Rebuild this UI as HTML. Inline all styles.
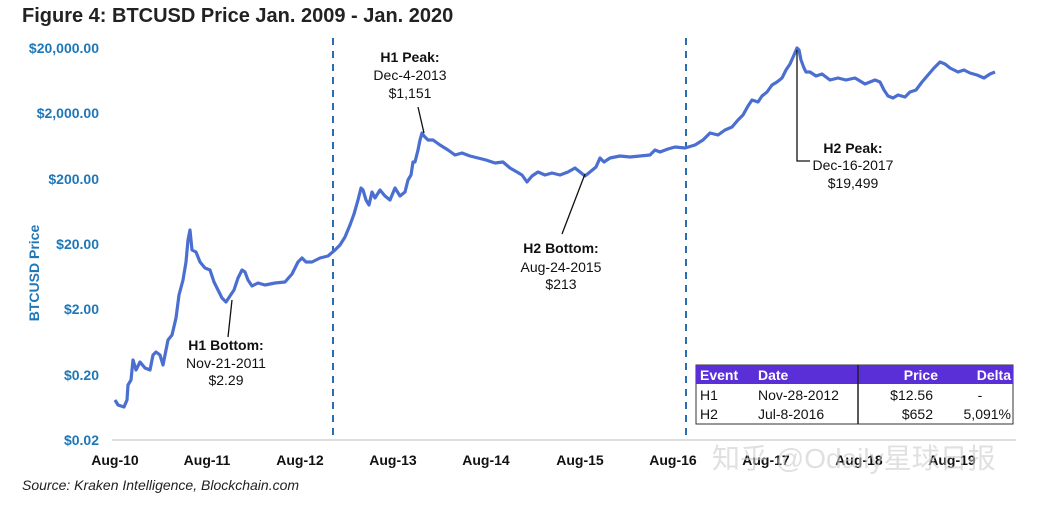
<!DOCTYPE html>
<html><head><meta charset="utf-8"><style>
body{margin:0;background:#fff;width:1059px;height:500px;overflow:hidden;font-family:"Liberation Sans",Arial,sans-serif}
</style></head><body>
<svg width="1059" height="500" viewBox="0 0 1059 500" xmlns="http://www.w3.org/2000/svg" font-family="Liberation Sans, Arial, sans-serif">
<text x="22" y="22" font-size="20" font-weight="bold" fill="#222">Figure 4: BTCUSD Price Jan. 2009 - Jan. 2020</text>
<g font-size="14" font-weight="bold" fill="#1f77b8" text-anchor="end">
<text x="99" y="53">$20,000.00</text>
<text x="99" y="118">$2,000.00</text>
<text x="99" y="184">$200.00</text>
<text x="99" y="249">$20.00</text>
<text x="99" y="314">$2.00</text>
<text x="99" y="380">$0.20</text>
<text x="99" y="445">$0.02</text>
</g>
<text transform="translate(39,273) rotate(-90)" font-size="14" font-weight="bold" fill="#1f77b8" text-anchor="middle">BTCUSD Price</text>
<line x1="112" y1="440" x2="1016" y2="440" stroke="#bbb" stroke-width="1"/>
<g font-size="14" font-weight="bold" fill="#111" text-anchor="middle">
<text x="115" y="465">Aug-10</text><text x="207" y="465">Aug-11</text><text x="300" y="465">Aug-12</text>
<text x="393" y="465">Aug-13</text><text x="486" y="465">Aug-14</text><text x="580" y="465">Aug-15</text>
<text x="673" y="465">Aug-16</text><text x="766" y="465">Aug-17</text><text x="859" y="465">Aug-18</text><text x="952" y="465">Aug-19</text>
</g>
<g stroke="#2a6db0" stroke-width="2" stroke-dasharray="7,6">
<line x1="333" y1="38" x2="333" y2="440"/><line x1="686" y1="38" x2="686" y2="440"/>
</g>
<polyline fill="none" stroke="#4a6fd0" stroke-width="3.2" stroke-linejoin="round" points="115,400 118,405 124,407 127,400 128,385 131,380 133,360 136,370 140,362 145,368 150,370 153,355 156,352 160,355 163,365 168,340 172,335 176,318 179,295 183,280 186,262 188,240 190,230 192,250 196,252 200,262 205,268 210,270 214,282 218,290 222,298 226,302 230,296 234,290 238,278 242,270 245,272 248,280 252,286 258,283 265,285 275,283 285,282 292,274 298,262 302,258 306,262 312,262 320,258 328,256 335,250 340,245 345,237 350,225 354,214 358,200 361,188 363,190 366,200 369,205 372,192 375,198 380,190 385,196 390,200 395,188 400,196 405,192 408,180 411,175 413,162 415,162 418,150 420,140 422,133 424,136 428,140 433,140 440,145 448,150 455,155 462,153 470,156 478,158 486,160 495,163 503,162 510,168 517,172 522,175 527,182 532,176 538,172 545,175 552,173 560,175 568,172 575,168 580,172 585,176 590,172 596,167 600,158 604,162 610,158 620,156 630,157 640,156 650,155 655,150 660,152 668,149 675,147 685,148 695,145 703,140 710,133 718,135 725,130 732,127 738,120 743,115 748,106 752,100 758,102 762,96 767,92 772,85 777,82 782,78 786,70 790,64 794,55 797,48 799,50 801,60 804,68 806,72 810,72 816,76 822,74 830,80 838,78 846,80 855,78 865,84 875,80 880,82 884,90 888,96 893,98 898,95 905,97 910,92 916,90 922,82 928,75 934,68 940,62 945,64 950,68 958,72 964,70 970,73 977,75 984,78 990,74 995,72"/>
<g stroke="#111" stroke-width="1.3" fill="none">
<line x1="418" y1="107" x2="424" y2="133"/>
<line x1="232" y1="300" x2="228" y2="337"/>
<line x1="585" y1="174" x2="562" y2="234"/>
<polyline points="797,50 797,161 810,161"/>
</g>
<g font-size="14" fill="#111" text-anchor="middle">
<text x="410" y="62" font-weight="bold">H1 Peak:</text><text x="410" y="80">Dec-4-2013</text><text x="410" y="98">$1,151</text>
<text x="226" y="350" font-weight="bold">H1 Bottom:</text><text x="226" y="368">Nov-21-2011</text><text x="226" y="385">$2.29</text>
<text x="561" y="253" font-weight="bold">H2 Bottom:</text><text x="561" y="272">Aug-24-2015</text><text x="561" y="289">$213</text>
<text x="853" y="153" font-weight="bold">H2 Peak:</text><text x="853" y="170">Dec-16-2017</text><text x="853" y="188">$19,499</text>
</g>
<rect x="696" y="365" width="317" height="59" fill="#fff" stroke="#333" stroke-width="1"/>
<rect x="696" y="365" width="317" height="19" fill="#5a2fd8"/>
<line x1="858" y1="365" x2="858" y2="424" stroke="#222" stroke-width="1.5"/>
<g font-size="14">
<text x="700" y="380" fill="#fff" font-weight="bold">Event</text><text x="758" y="380" fill="#fff" font-weight="bold">Date</text>
<text x="938" y="380" fill="#fff" font-weight="bold" text-anchor="end">Price</text><text x="1011" y="380" fill="#fff" font-weight="bold" text-anchor="end">Delta</text>
<text x="700" y="400" fill="#111">H1</text><text x="758" y="400" fill="#111">Nov-28-2012</text>
<text x="933" y="400" fill="#111" text-anchor="end">$12.56</text><text x="980" y="400" fill="#111" text-anchor="middle">-</text>
<text x="700" y="419" fill="#111">H2</text><text x="758" y="419" fill="#111">Jul-8-2016</text>
<text x="933" y="419" fill="#111" text-anchor="end">$652</text><text x="1011" y="419" fill="#111" text-anchor="end">5,091%</text>
</g>
<text x="22" y="490" font-size="14" font-style="italic" fill="#222">Source: Kraken Intelligence, Blockchain.com</text>
<text x="712" y="468" font-size="28" fill="#ccc" fill-opacity="0.6" font-family="Liberation Sans, Noto Sans CJK SC, sans-serif">知乎 @Odaily星球日报</text>
</svg>
</body></html>
